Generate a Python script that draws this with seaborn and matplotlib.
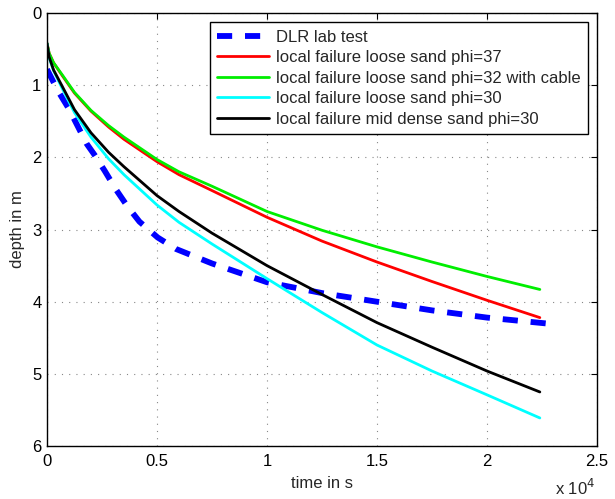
import numpy as np
import pandas as pd
import matplotlib
matplotlib.use("Agg")
import matplotlib.pyplot as plt
import seaborn as sns
from matplotlib.ticker import FuncFormatter

# ---------------- data (time in s, depth in m) ----------------
t_lab = [0, 500, 1000, 1800, 2170, 2630, 3145, 3660, 4200, 5030, 5870, 7500,
         10000, 12500, 15000, 17500, 20000, 23000]
d_lab = [0.78, 1.08, 1.33, 1.81, 1.97, 2.19, 2.45, 2.68, 2.89, 3.11, 3.27, 3.47,
         3.73, 3.88, 4.0, 4.12, 4.22, 4.31]

t_model = [0, 100, 300, 700, 1250, 2000, 2800, 3500, 5000, 6000, 7500,
           10000, 12500, 15000, 17500, 20000, 22400]
d_phi37 = [0.42, 0.56, 0.69, 0.87, 1.11, 1.36, 1.58, 1.75, 2.06, 2.24, 2.46,
           2.83, 3.16, 3.45, 3.72, 3.98, 4.22]
d_phi32_cable = [0.42, 0.56, 0.69, 0.86, 1.1, 1.35, 1.56, 1.72, 2.03, 2.2, 2.4,
                 2.75, 3.01, 3.24, 3.45, 3.65, 3.83]
d_phi30_loose = [0.42, 0.62, 0.8, 1.05, 1.38, 1.72, 2.02, 2.24, 2.66, 2.9, 3.2,
                 3.68, 4.15, 4.6, 4.96, 5.29, 5.61]
d_phi30_mid = [0.42, 0.61, 0.79, 1.02, 1.34, 1.66, 1.93, 2.13, 2.53, 2.75, 3.05,
               3.5, 3.9, 4.29, 4.63, 4.96, 5.25]

labels = ["DLR lab test",
          "local failure loose sand phi=37",
          "local failure loose sand phi=32 with cable",
          "local failure loose sand phi=30",
          "local failure mid dense sand phi=30"]
colors = ["#0000ff", "#ff0000", "#00ee00", "#00ffff", "#000000"]

# ---------------- style ----------------
sns.set_style("white")
plt.rcParams['font.family'] = ['Liberation Sans', 'DejaVu Sans']
plt.rcParams['font.size'] = 12

fig = plt.figure(figsize=(6.15, 4.99), dpi=100)
ax = fig.add_axes([0.0764, 0.106, 0.8944, 0.868])

lab_df = pd.DataFrame({'t': t_lab, 'd': d_lab})
sns.lineplot(data=lab_df, x='t', y='d', ax=ax, color=colors[0], lw=4.2,
             label=labels[0])
ax.lines[-1].set_dashes((2.6, 2.2))
ax.lines[-1].set_dash_capstyle('butt')

for d, lab, c in zip([d_phi37, d_phi32_cable, d_phi30_loose, d_phi30_mid], labels[1:], colors[1:]):
    df = pd.DataFrame({'t': t_model, 'd': d})
    sns.lineplot(data=df, x='t', y='d', ax=ax, color=c, lw=2, label=lab)

ax.set_xlim(0, 25000)
ax.set_ylim(6, 0)
ax.set_xticks(np.arange(0, 25001, 5000))
ax.set_yticks(np.arange(0, 7, 1))
ax.xaxis.set_major_formatter(FuncFormatter(lambda v, p: ('%g' % (v / 1e4))))
ax.tick_params(direction='in', top=True, right=True, length=4, width=0.8,
               labelsize=12, pad=4, colors='black')
ax.tick_params(axis='x', pad=5.5)
ax.grid(True, linestyle=(0, (1, 5.5)), color='#888888', lw=0.8)
for s in ax.spines.values():
    s.set_color('black')
    s.set_linewidth(1)

ax.set_xlabel("time in s", fontsize=12, labelpad=5)
ax.set_ylabel("depth in m", fontsize=12, labelpad=5)
fig.text(0.903, 0.003, r"x 10$^4$", fontsize=12, ha='left', va='bottom')

leg = ax.legend(loc='upper right', fontsize=12, fancybox=False, framealpha=1,
                edgecolor='black', borderaxespad=0.55, handlelength=3.1,
                labelspacing=0.33, borderpad=0.45, handletextpad=0.4)
leg.get_frame().set_linewidth(1)

fig.savefig("out.png", dpi=100)
